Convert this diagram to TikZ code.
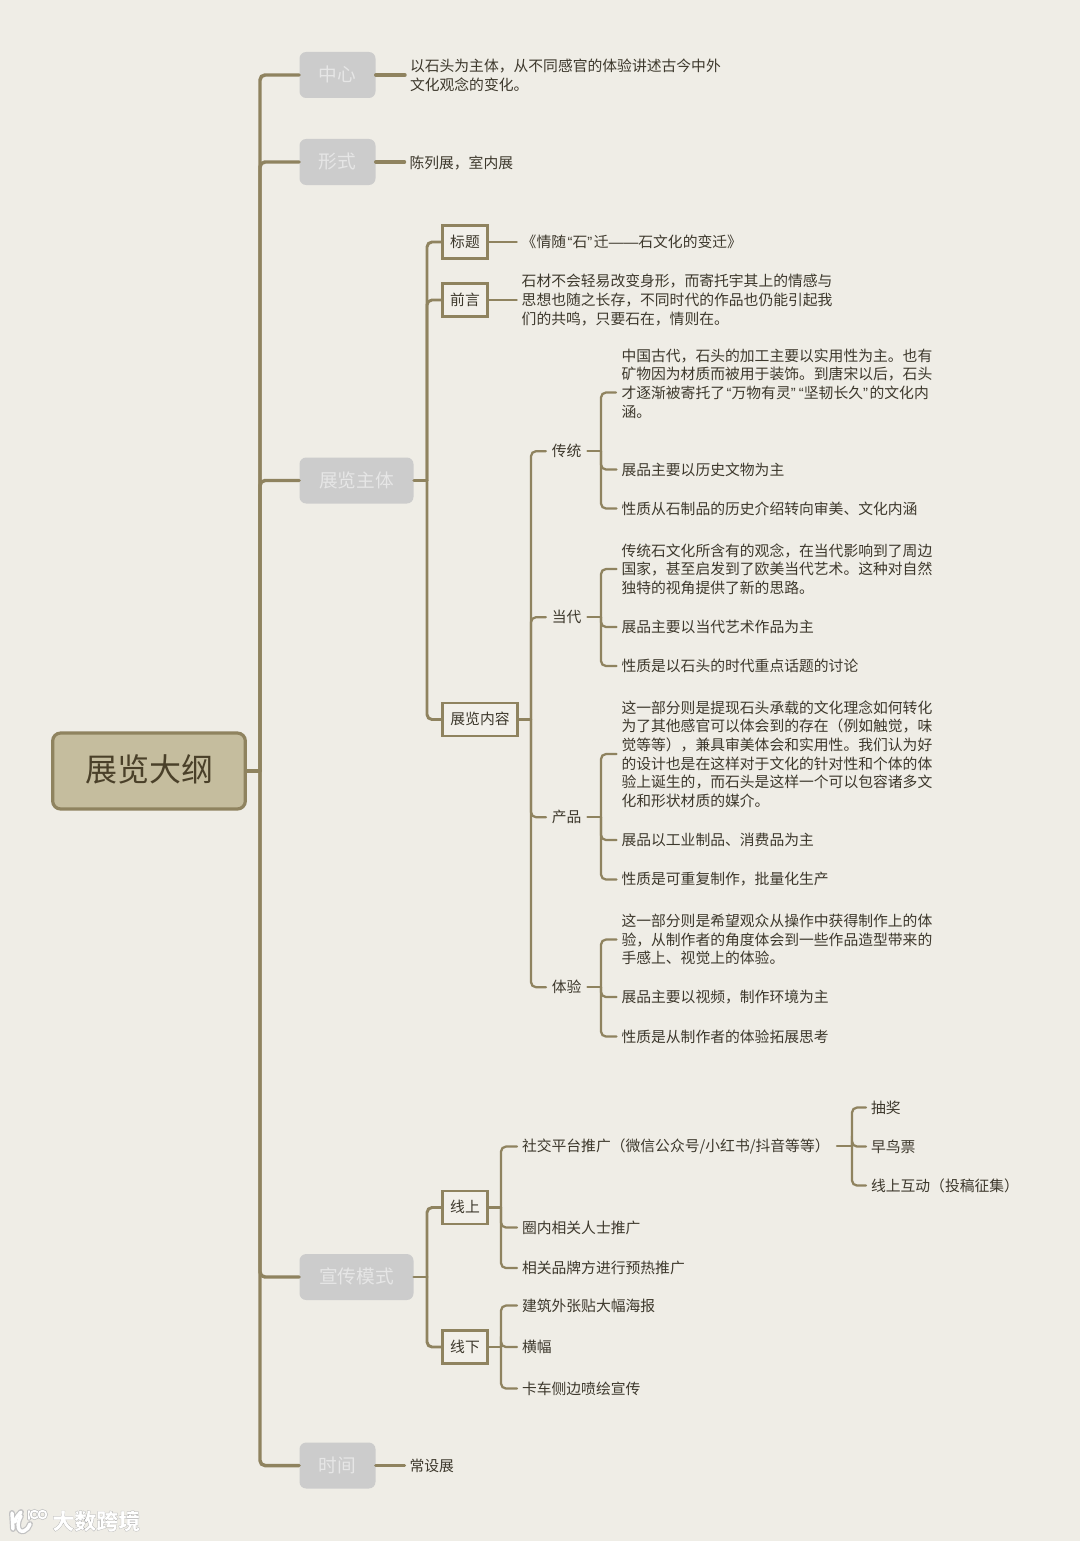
\documentclass[tikz,border=0pt]{standalone}
\usepackage{fontspec}
\setmainfont{Noto Sans CJK SC}
\newfontfamily\qfont{Liberation Sans}
\newfontfamily\wmfont[BoldFeatures={FakeBold=0.9}]{Noto Sans CJK SC}
\newcommand\opq{\makebox[4.9pt][r]{\qfont “}}
\newcommand\clq{\makebox[4.9pt][l]{\qfont ”}}
\newcommand\dashes{{\qfont ——}}
\newcommand\up[2]{\raisebox{#1}[\height][\depth]{#2}}
\definecolor{bgc}{HTML}{EFEDE6}
\definecolor{linec}{HTML}{8F835F}
\definecolor{rootc}{HTML}{C5BD9E}
\definecolor{inkc}{HTML}{3D382C}
\definecolor{rootink}{HTML}{4A4029}
\definecolor{lonec}{HTML}{CCCCCC}
\definecolor{loneink}{HTML}{E6E6E6}
\definecolor{ltwoc}{HTML}{F2F0EA}
\newcommand\fan[4][]{%
  \draw[#1] (#2) -- (#2 -| #3);
  \foreach \c in {#4} {\draw[#1,rounded corners=5*0.75pt] (#2 -| #3) -- (\c -| #3) -- (\c);}
}
\tikzset{
  x=0.75pt,y=-0.75pt,
  rootbox/.style={draw=linec,line width=2.4pt,fill=rootc,rounded corners=6pt,minimum width=144.5pt,minimum height=57pt,text=rootink,font=\fontsize{24}{28}\selectfont,inner sep=0pt},
  loneA/.style={fill=lonec,rounded corners=5pt,minimum width=57pt,minimum height=34.5pt,text=loneink,font=\fontsize{14}{18}\selectfont,inner sep=0pt},
  loneB/.style={loneA,minimum width=85.5pt},
  ltwo/.style={draw=linec,line width=1.9pt,fill=ltwoc,minimum width=33.5pt,minimum height=25pt,text=inkc,font=\fontsize{11.1}{14}\selectfont,inner sep=0pt},
  ltwoW/.style={ltwo,minimum width=56pt},
  leaf/.style={anchor=west,align=left,text=inkc,font=\fontsize{11.1}{14}\selectfont,inner xsep=3.75pt,inner ysep=0pt,outer sep=0pt,yshift=-0.4pt},
  tag/.style={text=inkc,font=\fontsize{11.1}{14}\selectfont,inner xsep=4.5pt,inner ysep=0pt,outer sep=0pt,yshift=-0.15pt},
  wa/.style={linec,line width=2.6pt,line cap=round},
  wb/.style={linec,line width=2.2pt,line cap=round},
  wc/.style={linec,line width=1.7pt,line cap=round},
}
\begin{document}
\begin{tikzpicture}
\useasboundingbox (0,0) rectangle (1080,1541);
\fill[bgc] (0,0) rectangle (1080,1541);
% bus positions
\coordinate (busA) at (260,0);
\coordinate (busB) at (427,0);
\coordinate (busC) at (531,0);
\coordinate (busD) at (601,0);
\coordinate (busE) at (501,0);
\coordinate (busF) at (852,0);
% root and first level
\node[rootbox] (root) at (149,771) {\up{1.5pt}{展览大纲}};
\node[loneA] (center) at (337.5,75) {\up{0.5pt}{中心}};
\node[loneA] (form) at (337.5,162) {\up{0.4pt}{形式}};
\node[loneB] (body) at (356.5,480.5) {\up{0.4pt}{展览主体}};
\node[loneB] (promo) at (356.5,1277) {\up{0.4pt}{宣传模式}};
\node[loneA] (time) at (337.5,1465.5) {时间};
% first-level leaves
\node[leaf] (centerT) at (405,75) {以石头为主体，从不同感官的体验讲述古今中外\\文化观念的变化。};
\node[leaf] (formT) at (404.5,162) {陈列展，室内展};
\node[leaf] (timeT) at (404.5,1465.5) {常设展};
% second level
\node[ltwo] (title) at (465,242) {标题};
\node[ltwo] (pref) at (465,300) {前言};
\node[ltwoW] (content) at (480,719.5) {\up{0.4pt}{展览内容}};
\node[ltwo] (online) at (465,1207.5) {\up{0.4pt}{线上}};
\node[ltwo] (offline) at (465,1347) {线下};
\node[leaf] (titleT) at (516.7,241.5) {《情随\opq 石\clq 迁\dashes 石文化的变迁》};
\node[leaf] (prefT) at (516.7,299.5) {石材不会轻易改变身形，而寄托宇其上的情感与\\思想也随之长存，不同时代的作品也仍能引起我\\们的共鸣，只要石在，情则在。};
% content groups
\node[tag] (trad) at (566.7,451) {传统};
\node[tag] (now) at (566.7,617) {当代};
\node[tag] (prod) at (566.7,817) {产品};
\node[tag] (exp) at (566.7,987) {体验};
% traditional
\node[leaf] (tradA) at (616.5,383) {中国古代，石头的加工主要以实用性为主。也有\\矿物因为材质而被用于装饰。到唐宋以后，石头\\才逐渐被寄托了\opq 万物有灵\clq\opq 坚韧长久\clq 的文化内\\涵。};
\coordinate (tradAin) at (616,392.5);
\node[leaf] (tradB) at (616.5,469) {展品主要以历史文物为主};
\node[leaf] (tradC) at (616.5,508) {性质从石制品的历史介绍转向审美、文化内涵};
% contemporary
\node[leaf] (nowA) at (616.5,568.5) {传统石文化所含有的观念，在当代影响到了周边\\国家，甚至启发到了欧美当代艺术。这种对自然\\独特的视角提供了新的思路。};
\node[leaf] (nowB) at (616.5,626.5) {展品主要以当代艺术作品为主};
\node[leaf] (nowC) at (616.5,665.5) {性质是以石头的时代重点话题的讨论};
% product
\node[leaf] (prodA) at (616.5,753.5) {这一部分则是提现石头承载的文化理念如何转化\\为了其他感官可以体会到的存在（例如触觉，味\\觉等等），兼具审美体会和实用性。我们认为好\\的设计也是在这样对于文化的针对性和个体的体\\验上诞生的，而石头是这样一个可以包容诸多文\\化和形状材质的媒介。};
\node[leaf] (prodB) at (616.5,839.5) {展品以工业制品、消费品为主};
\node[leaf] (prodC) at (616.5,879) {性质是可重复制作，批量化生产};
% experience
\node[leaf] (expA) at (616.5,939) {这一部分则是希望观众从操作中获得制作上的体\\验，从制作者的角度体会到一些作品造型带来的\\手感上、视觉上的体验。};
\node[leaf] (expB) at (616.5,996.5) {展品主要以视频，制作环境为主};
\node[leaf] (expC) at (616.5,1036) {性质是从制作者的体验拓展思考};
% promotion
\node[leaf] (social) at (517,1146) {社交平台推广（微信公众号/小红书/抖音等等）};
\coordinate (socialOut) at (837,1146);
\node[leaf] (circle) at (517,1227) {圈内相关人士推广};
\node[leaf] (brand) at (517,1267.5) {相关品牌方进行预热推广};
\node[leaf] (lottery) at (866,1107) {抽奖};
\node[leaf] (early) at (866,1146) {早鸟票};
\node[leaf] (inter) at (866,1185) {线上互动（投稿征集）};
\node[leaf] (poster) at (517,1305) {建筑外张贴大幅海报};
\node[leaf] (banner) at (517,1346.5) {横幅};
\node[leaf] (truck) at (517,1388) {卡车侧边喷绘宣传};
% connectors
\fan[wa]{root.east}{busA}{center.west,form.west,body.west,promo.west,time.west}
\draw[wa] (center.east) -- (center.east -| centerT.west);
\draw[wa] (form.east) -- (form.east -| formT.west);
\draw[wa] (time.east) -- (time.east -| timeT.west);
\fan[wb]{body.east}{busB}{title.west,pref.west,content.west}
\fan[wb]{promo.east}{busB}{online.west,offline.west}
\draw[wc] (title.east) -- (title.east -| titleT.west);
\draw[wc] (pref.east) -- (pref.east -| prefT.west);
\fan[wc]{content.east}{busC}{trad.west,now.west,prod.west,exp.west}
\fan[wc]{trad.east}{busD}{tradAin,tradB.west,tradC.west}
\fan[wc]{now.east}{busD}{nowA.west,nowB.west,nowC.west}
\fan[wc]{prod.east}{busD}{prodA.west,prodB.west,prodC.west}
\fan[wc]{exp.east}{busD}{expA.west,expB.west,expC.west}
\fan[wc]{online.east}{busE}{social.west,circle.west,brand.west}
\fan[wc]{offline.east}{busE}{poster.west,banner.west,truck.west}
\fan[wc]{socialOut}{busF}{lottery.west,early.west,inter.west}
% watermark
\foreach \cc/\wd in {black!24/4.4pt,white/2.6pt}{
  \draw[\cc,line width=\wd,line cap=round] (12,1513) -- (13,1529);
  \draw[\cc,line width=\wd,line cap=round] (21,1512) .. controls (16,1517) and (15,1520) .. (15,1522);
  \draw[\cc,line width=\wd,line cap=round] (21,1516) .. controls (16,1524) and (18,1533) .. (24,1531) .. controls (27,1530) and (29,1527) .. (30,1524);
}
\draw[black!24,line width=2.4pt,line cap=round] (29,1511) -- (29,1519);
\draw[white,line width=1.3pt,line cap=round] (29,1511) -- (29,1519);
\foreach \px in {34.5,42.5}{
  \draw[black!24,line width=2.4pt] (\px,1514.5) circle[radius=3.8];
  \draw[white,line width=1.3pt] (\px,1514.5) circle[radius=3.8];
}
\node[anchor=west,inner sep=0pt] (wm) at (52,1521) {\special{pdf:bc [1] [0.66]}\wmfont\bfseries\fontsize{16.5}{20}\selectfont 大数跨境\special{pdf:ec}};
\end{tikzpicture}
\end{document}
